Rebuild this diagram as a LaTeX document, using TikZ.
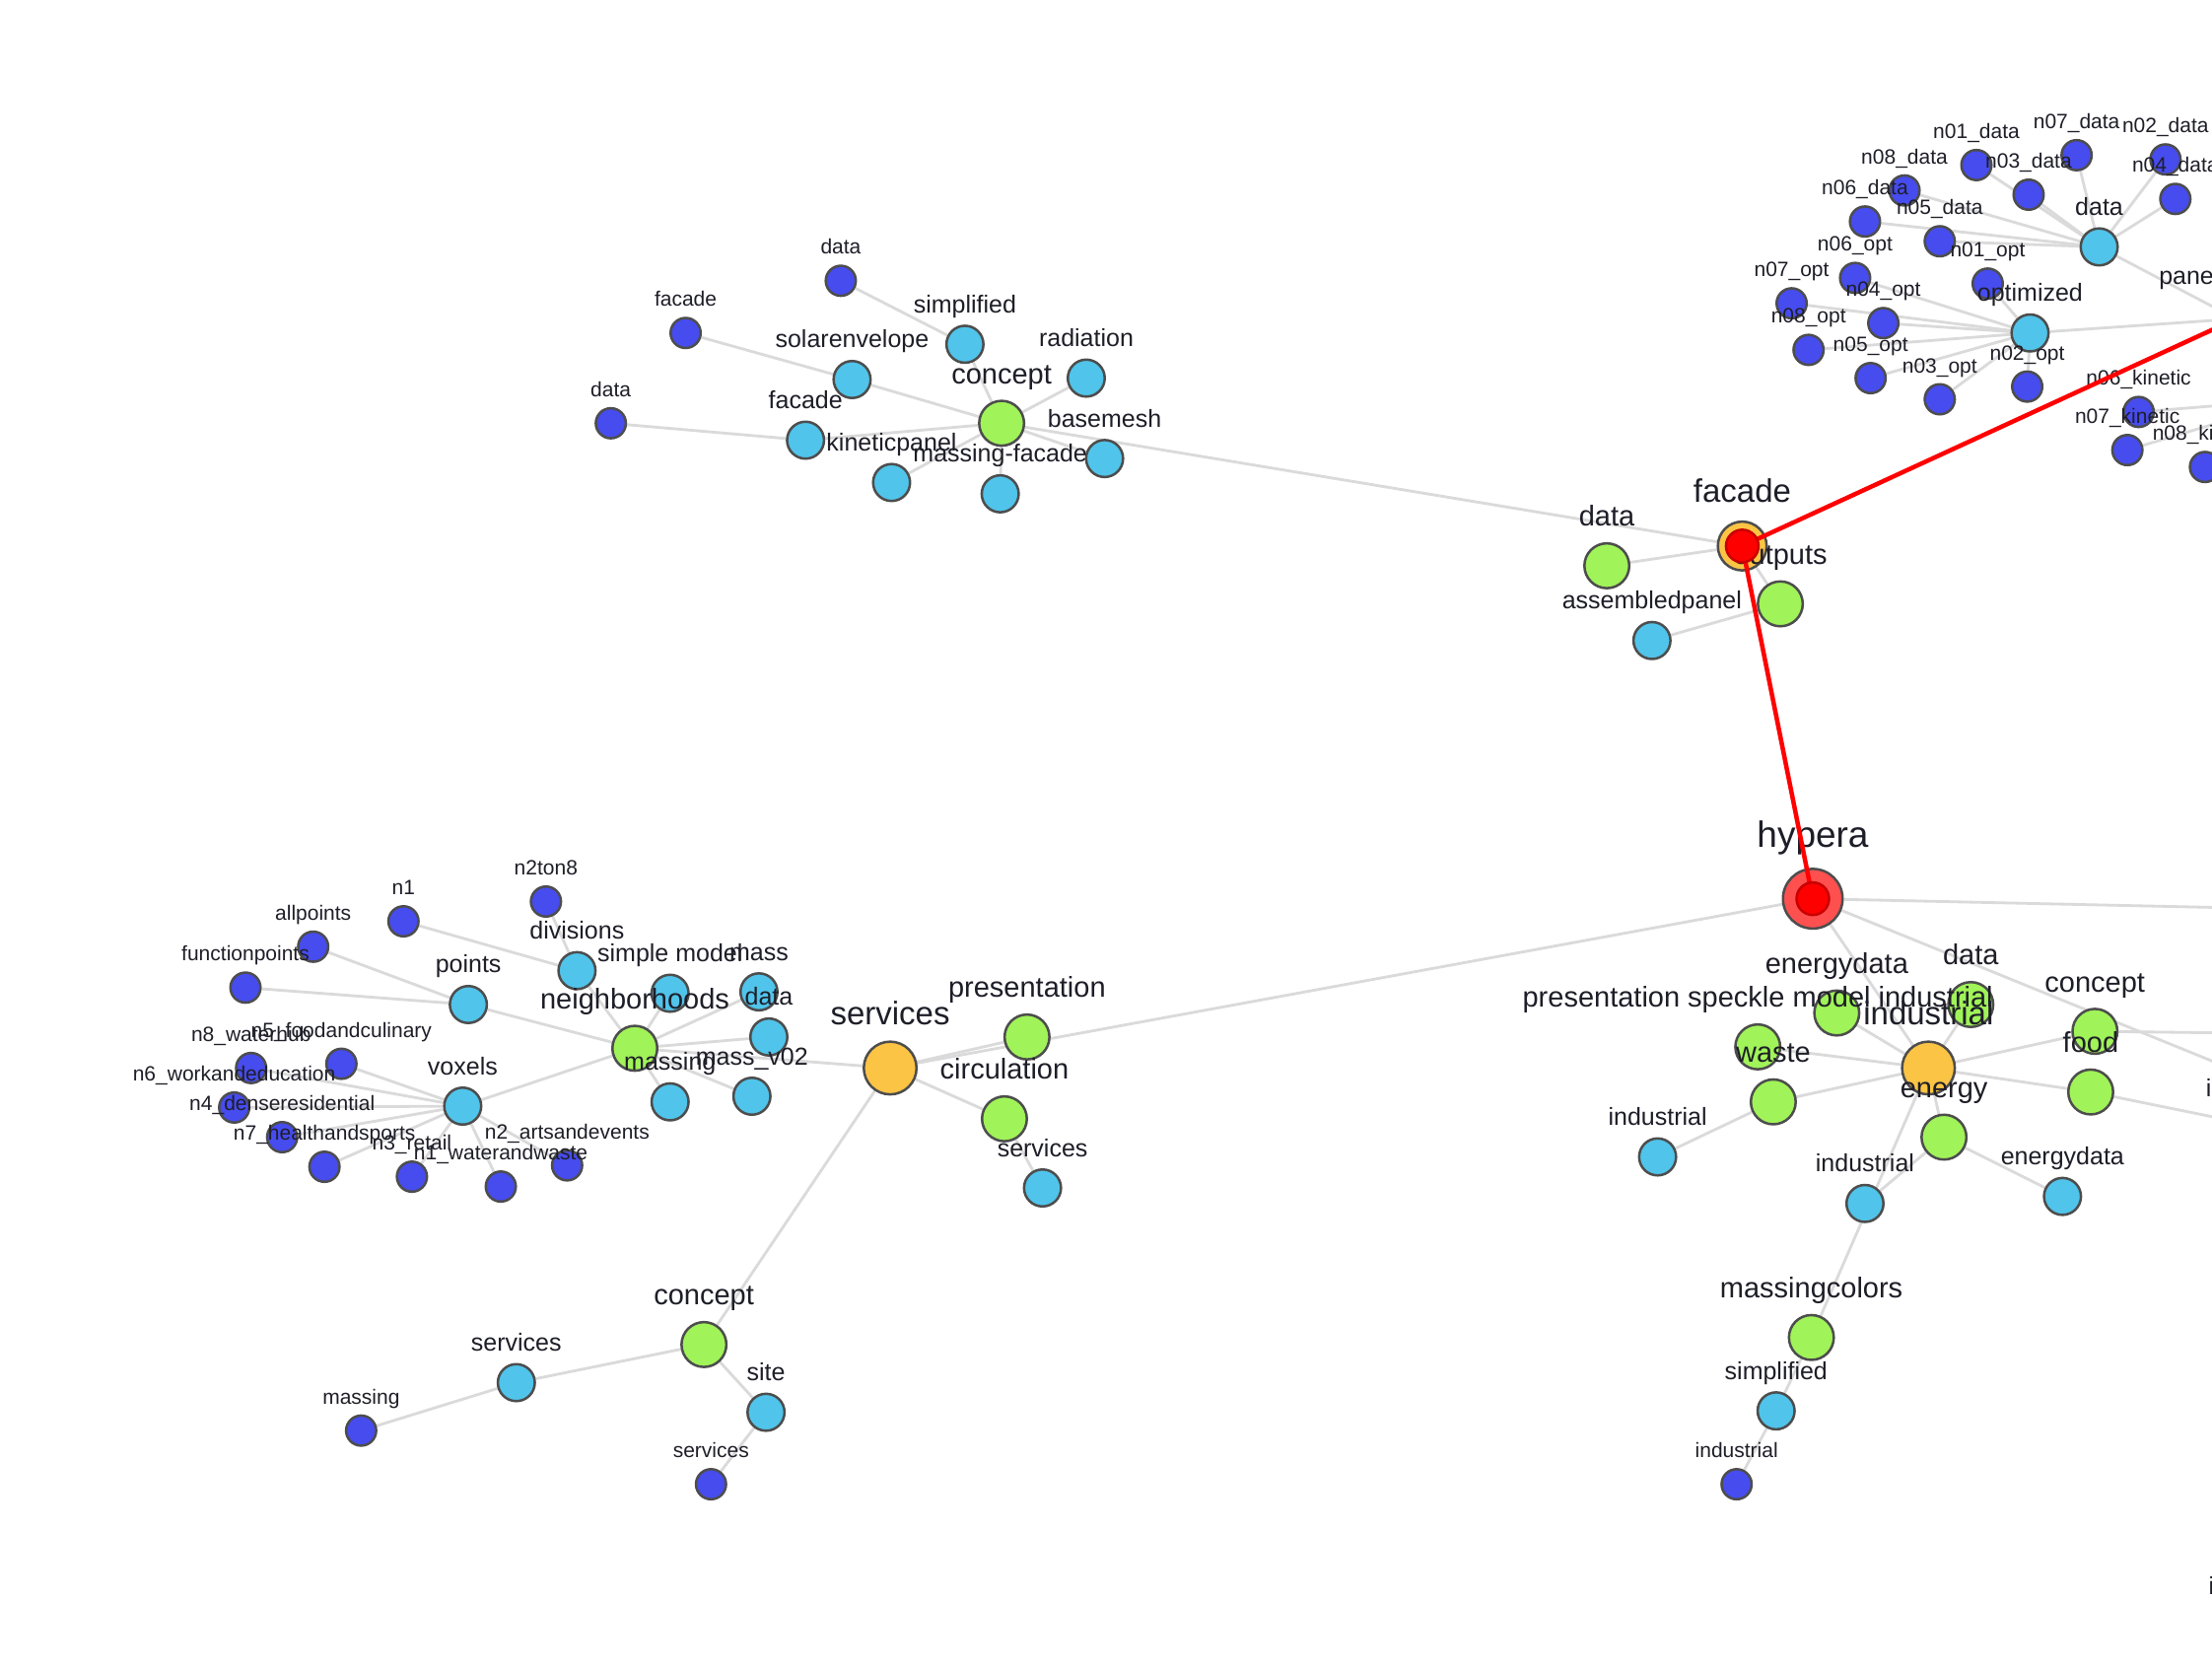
\documentclass[tikz,border=0pt]{standalone}
\usepackage{fontspec}
\setmainfont{Liberation Sans}
\definecolor{bluec}{RGB}{70,76,238}
\definecolor{cyanc}{RGB}{80,196,234}
\definecolor{greenc}{RGB}{160,243,88}
\definecolor{orangec}{RGB}{251,196,68}
\definecolor{hyperc}{RGB}{255,80,80}
\definecolor{bordc}{RGB}{77,77,77}
\definecolor{edgec}{RGB}{218,218,218}
\definecolor{dotb}{RGB}{200,0,0}
\definecolor{txtc}{RGB}{30,30,40}
\pgfdeclarelayer{edgelayer}
\pgfdeclarelayer{toplayer}
\pgfsetlayers{edgelayer,main,toplayer}
\tikzset{
 nd/.style={circle, draw=bordc, line width=2.5pt, inner sep=0pt},
 nb/.style={nd, fill=bluec, minimum size=30.5pt},
 nc/.style={nd, fill=cyanc, minimum size=37.5pt},
 ng/.style={nd, fill=greenc, minimum size=45.5pt},
 no/.style={nd, fill=orangec, minimum size=53.5pt},
 nf/.style={nd, fill=orangec, minimum size=49.5pt},
 nh/.style={nd, fill=hyperc, minimum size=60.5pt},
 ndot/.style={circle, draw=dotb, line width=2.5pt, fill=red, minimum size=33pt, inner sep=0pt},
 tx/.style={anchor=base, text=txtc, inner sep=0pt},
 tB/.style={tx, yshift=27pt, font=\fontsize{21pt}{21pt}\selectfont},
 tC/.style={tx, yshift=32pt, font=\fontsize{25pt}{25pt}\selectfont},
 tG/.style={tx, yshift=40pt, font=\fontsize{29pt}{29pt}\selectfont},
 tO/.style={tx, yshift=44pt, font=\fontsize{33pt}{33pt}\selectfont},
 tH/.style={tx, yshift=52pt, font=\fontsize{37pt}{37pt}\selectfont},
 gline/.style={draw=edgec, line width=2.8pt},
 rline/.style={draw=red, line width=4.5pt, line join=round},
}
\begin{document}
\begin{tikzpicture}[x=1.4311pt,y=-1.4311pt]
\useasboundingbox (0,0) rectangle (1568,1182.3);

% ---------------- nodes ----------------
\node[nh] (hyp) at (1285,637) {};
% facade cluster
\node[nf] (fac) at (1235,387) {};
\node[ng] (fdata) at (1139,401) {};
\node[ng] (fout) at (1262,428) {};
\node[nc] (fasm) at (1171,454) {};
\node[ng] (panel) at (1585,226) {};
\coordinate (kin) at (1628,283);
% top-right cluster
\node[nc] (tdata) at (1488,175) {};
\node[nc] (topt) at (1439,236) {};
\node[nb] (d01) at (1401,117) {};
\node[nb] (d07) at (1472,110) {};
\node[nb] (d02) at (1535,113) {};
\node[nb] (d08) at (1350,135) {};
\node[nb] (d03) at (1438,138) {};
\node[nb] (d04) at (1542,141) {};
\node[nb] (d06) at (1322,157) {};
\node[nb] (d05) at (1375,171) {};
\node[nb] (o06) at (1315,197) {};
\node[nb] (o01) at (1409,201) {};
\node[nb] (o07) at (1270,215) {};
\node[nb] (o04) at (1335,229) {};
\node[nb] (o08) at (1282,248) {};
\node[nb] (o05) at (1326,268) {};
\node[nb] (o03) at (1375,283) {};
\node[nb] (o02) at (1437,274) {};
\node[nb] (k06) at (1516,292) {};
\node[nb] (k07) at (1508,319) {};
\node[nb] (k08) at (1563,331) {};
% top-middle cluster
\node[ng] (tcon) at (710,300) {};
\node[nb] (tdb1) at (596,199) {};
\node[nb] (tfb) at (486,236) {};
\node[nb] (tdb2) at (433,300) {};
\node[nc] (simp) at (684,244) {};
\node[nc] (solar) at (604,269) {};
\node[nc] (rad) at (770,268) {};
\node[nc] (tfac) at (571,312) {};
\node[nc] (kinp) at (632,342) {};
\node[nc] (mfac) at (709,350) {};
\node[nc] (base) at (783,325) {};
% services cluster
\node[no] (svc) at (631,757) {};
\node[ng] (pres) at (728,735) {};
\node[ng] (circ) at (712,793) {};
\node[nc] (svcs) at (739,842) {};
\node[ng] (bcon) at (499,953) {};
\node[nc] (bsvc) at (366,980) {};
\node[nb] (bmass) at (256,1014) {};
\node[nc] (site) at (543,1001) {};
\node[nb] (bsvb) at (504,1052) {};
% left cluster
\node[ng] (neigh) at (450,743) {};
\node[nc] (points) at (332,712) {};
\node[nc] (voxels) at (328,784) {};
\node[nc] (divs) at (409,688) {};
\node[nc] (smod) at (475,704) {};
\node[nc] (mass) at (538,703) {};
\node[nc] (ldata) at (545,735) {};
\node[nc] (massv) at (533,777) {};
\node[nc] (lmass) at (475,781) {};
\node[nb] (n2ton8) at (387,639) {};
\node[nb] (nn1) at (286,653) {};
\node[nb] (allp) at (222,671) {};
\node[nb] (funp) at (174,700) {};
\node[nb] (v5) at (242,754) {};
\node[nb] (v8) at (178,757) {};
\node[nb] (v6) at (166,785) {};
\node[nb] (v4) at (200,806) {};
\node[nb] (v7) at (230,827) {};
\node[nb] (v3) at (292,834) {};
\node[nb] (v1) at (355,841) {};
\node[nb] (v2) at (402,826) {};
% energy cluster
\node[no] (ind) at (1367,757) {};
\node[ng] (psm) at (1246,742) {};
\node[ng] (edata) at (1302,718) {};
\node[ng] (gdata) at (1397,712) {};
\node[ng] (waste) at (1257,781) {};
\node[ng] (energy) at (1378,806) {};
\node[ng] (econ) at (1485,731) {};
\node[ng] (food) at (1482,774) {};
\node[nc] (cind1) at (1175,820) {};
\node[nc] (cind2) at (1322,853) {};
\node[nc] (cedata) at (1462,848) {};
\node[ng] (mcol) at (1284,948) {};
\node[nc] (esimp) at (1259,1000) {};
\node[nb] (bind) at (1231,1052) {};
\node[nc] (inode) at (1600,798) {};
\coordinate (hypR) at (1700,646);
\coordinate (hypR2) at (1750,826);
\coordinate (conR) at (1650,733);
\coordinate (offi) at (1620,1152);

% ---------------- labels ----------------
\node[tH] at (hyp) {hypera};
\node[tO] at (fac) {facade};
\node[tG] at (fdata) {data};
\node[tG] at (fout) {outputs};
\node[tC] at (fasm) {assembledpanel};
\node[tx, anchor=base west, font=\fontsize{25pt}{25pt}\selectfont] (panellab) at (1530.3,201.5) {panel};
\node[tC] at (tdata) {data};
\node[tC] at (topt) {optimized};
\node[tB] at (d01) {n01\_data};
\node[tB] at (d07) {n07\_data};
\node[tB] at (d02) {n02\_data};
\node[tB] at (d08) {n08\_data};
\node[tB] at (d03) {n03\_data};
\node[tB] at (d04) {n04\_data};
\node[tB] at (d06) {n06\_data};
\node[tB] at (d05) {n05\_data};
\node[tB] at (o06) {n06\_opt};
\node[tB] at (o01) {n01\_opt};
\node[tB] at (o07) {n07\_opt};
\node[tB] at (o04) {n04\_opt};
\node[tB] at (o08) {n08\_opt};
\node[tB] at (o05) {n05\_opt};
\node[tB] at (o03) {n03\_opt};
\node[tB] at (o02) {n02\_opt};
\node[tB] at (k06) {n06\_kinetic};
\node[tB] at (k07) {n07\_kinetic};
\node[tB] at (k08) {n08\_kinetic};
\node[tG] at (tcon) {concept};
\node[tB] at (tdb1) {data};
\node[tB] at (tfb) {facade};
\node[tB] at (tdb2) {data};
\node[tC] at (simp) {simplified};
\node[tC] at (solar) {solarenvelope};
\node[tC] at (rad) {radiation};
\node[tC] at (tfac) {facade};
\node[tC] at (kinp) {kineticpanel};
\node[tC] at (mfac) {massing-facade};
\node[tC] at (base) {basemesh};
\node[tO] at (svc) {services};
\node[tG] at (pres) {presentation};
\node[tG] at (circ) {circulation};
\node[tC] at (svcs) {services};
\node[tG] at (bcon) {concept};
\node[tC] at (bsvc) {services};
\node[tB] at (bmass) {massing};
\node[tC] at (site) {site};
\node[tB] at (bsvb) {services};
\node[tG] at (neigh) {neighborhoods};
\node[tC] at (points) {points};
\node[tC] at (voxels) {voxels};
\node[tC] at (divs) {divisions};
\node[tC] at (smod) {simple model};
\node[tC] at (mass) {mass};
\node[tC] at (ldata) {data};
\node[tC] at (massv) {mass\_v02};
\node[tC] at (lmass) {massing};
\node[tB] at (n2ton8) {n2ton8};
\node[tB] at (nn1) {n1};
\node[tB] at (allp) {allpoints};
\node[tB] at (funp) {functionpoints};
\node[tB] at (v5) {n5\_foodandculinary};
\node[tB] at (v8) {n8\_waterhub};
\node[tB] at (v6) {n6\_workandeducation};
\node[tB] at (v4) {n4\_denseresidential};
\node[tB] at (v7) {n7\_healthandsports};
\node[tB] at (v3) {n3\_retail};
\node[tB] at (v1) {n1\_waterandwaste};
\node[tB] at (v2) {n2\_artsandevents};
\node[tO] at (ind) {industrial};
\node[tG] at (psm) {presentation speckle model industrial};
\node[tG] at (edata) {energydata};
\node[tG] at (gdata) {data};
\node[tG] at (waste) {waste};
\node[tG] at (energy) {energy};
\node[tG] at (econ) {concept};
\node[tG] at (food) {food};
\node[tC] at (cind1) {industrial};
\node[tC] at (cind2) {industrial};
\node[tC] at (cedata) {energydata};
\node[tG] at (mcol) {massingcolors};
\node[tC] at (esimp) {simplified};
\node[tB] at (bind) {industrial};
\node[tx, anchor=base west, font=\fontsize{25pt}{25pt}\selectfont] (ilab1) at (1563.5,777) {i};
\node[tx, anchor=base west, font=\fontsize{25pt}{25pt}\selectfont] (ilab2) at (1565.5,1130) {i};

% ---------------- gray connectors ----------------
\begin{pgfonlayer}{edgelayer}
\fill[white] (0,0) rectangle (1568,1182.3);
\foreach \b in {d01,d02,d03,d04,d05,d06,d07,d08} \draw[gline] (tdata) -- (\b);
\foreach \b in {o01,o02,o03,o04,o05,o06,o07,o08} \draw[gline] (topt) -- (\b);
\draw[gline] (tdata) -- (panel);
\draw[gline] (topt) -- (panel);
\foreach \b in {k06,k07,k08} \draw[gline] (\b) -- (kin);
\draw[gline] (fac) -- (fdata);
\draw[gline] (fac) -- (fout);
\draw[gline] (fout) -- (fasm);
\draw[gline] (fac) -- (tcon);
\foreach \b in {simp,solar,rad,tfac,kinp,mfac,base} \draw[gline] (tcon) -- (\b);
\draw[gline] (simp) -- (tdb1);
\draw[gline] (solar) -- (tfb);
\draw[gline] (tfac) -- (tdb2);
\draw[gline] (hyp) -- (svc);
\draw[gline] (hyp) -- (hypR);
\draw[gline] (hyp) -- (hypR2);
\draw[gline] (hyp) -- (ind);
\draw[gline] (svc) -- (pres);
\draw[gline] (svc) -- (circ);
\draw[gline] (circ) -- (svcs);
\draw[gline] (svc) -- (neigh);
\draw[gline] (svc) -- (bcon);
\draw[gline] (bcon) -- (bsvc);
\draw[gline] (bsvc) -- (bmass);
\draw[gline] (bcon) -- (site);
\draw[gline] (site) -- (bsvb);
\foreach \b in {points,voxels,divs,smod,mass,ldata,massv,lmass} \draw[gline] (neigh) -- (\b);
\draw[gline] (divs) -- (n2ton8);
\draw[gline] (divs) -- (nn1);
\draw[gline] (points) -- (allp);
\draw[gline] (points) -- (funp);
\foreach \b in {v1,v2,v3,v4,v5,v6,v7,v8} \draw[gline] (voxels) -- (\b);
\foreach \b in {psm,edata,gdata,waste,energy,econ,food,mcol} \draw[gline] (ind) -- (\b);
\draw[gline] (waste) -- (cind1);
\draw[gline] (energy) -- (cind2);
\draw[gline] (energy) -- (cedata);
\draw[gline] (mcol) -- (esimp);
\draw[gline] (esimp) -- (bind);
\draw[gline] (econ) -- (conR);
\draw[gline] (food) -- (inode);
\end{pgfonlayer}

% ---------------- highlighted path ----------------
\begin{pgfonlayer}{toplayer}
\draw[rline] (hyp.center) -- (fac.center) -- (panel.center);
\node[ndot] (hypdot) at (hyp) {};
\node[ndot] (facdot) at (fac) {};
\end{pgfonlayer}
\end{tikzpicture}
\end{document}
